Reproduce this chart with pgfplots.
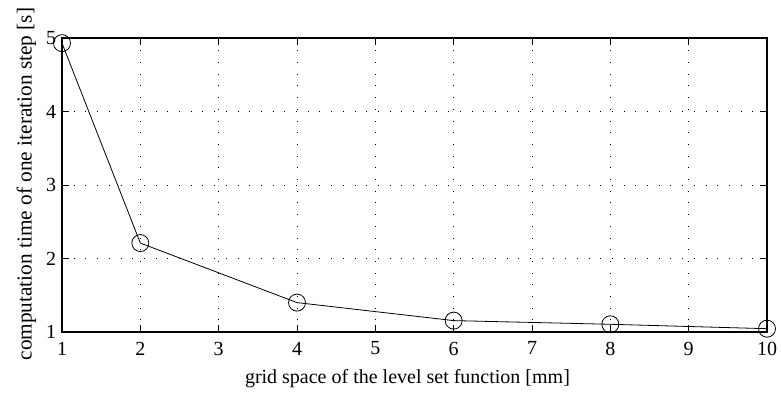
\documentclass[border=0pt]{standalone}
\usepackage{pgfplots}
\pgfplotsset{compat=1.18}
\usepackage{fontspec}
\setmainfont{Liberation Serif}
\begin{document}
\fontsize{20}{24}\selectfont
\begin{tikzpicture}
\path[use as bounding box] (-62pt,-62pt) rectangle (719pt,332pt);
\begin{axis}[
  at={(0pt,0pt)}, anchor=south west,
  scale only axis,
  width=705pt, height=294pt,
  xmin=1, xmax=10, ymin=1, ymax=5,
  xtick={1,2,...,10}, ytick={1,2,3,4,5},
  /pgf/number format/assume math mode=true,
  tick label style={font=\fontsize{20}{24}\selectfont},
  label style={font=\fontsize{20}{24}\selectfont},
  axis line style={line width=1.3pt},
  tick style={line width=0.8pt, black},
  major tick length=7pt,
  tick align=inside,
  xtick pos=both, ytick pos=both,
  grid=major,
  major grid style={black, line width=0.8pt, dash pattern=on 0.9pt off 10.8pt},
  xticklabel style={yshift=-3pt},
  yticklabel style={xshift=1pt},
  xlabel={grid space of the level set function [mm]},
  ylabel={computation time of one iteration step [s]},
  xlabel style={at={(axis description cs:0.49,0)}, anchor=north, yshift=-31pt},
  ylabel style={at={(axis description cs:-0.043,0.503)}, anchor=base, font=\fontsize{21.3}{25}\selectfont},
  clip=false,
]
\addplot[black, line width=0.8pt, mark=o, mark size=8.5pt, mark options={line width=0.8pt}]
  coordinates {(1,4.93) (2,2.21) (4,1.40) (6,1.155) (8,1.105) (10,1.045)};
\end{axis}
\end{tikzpicture}
\end{document}
